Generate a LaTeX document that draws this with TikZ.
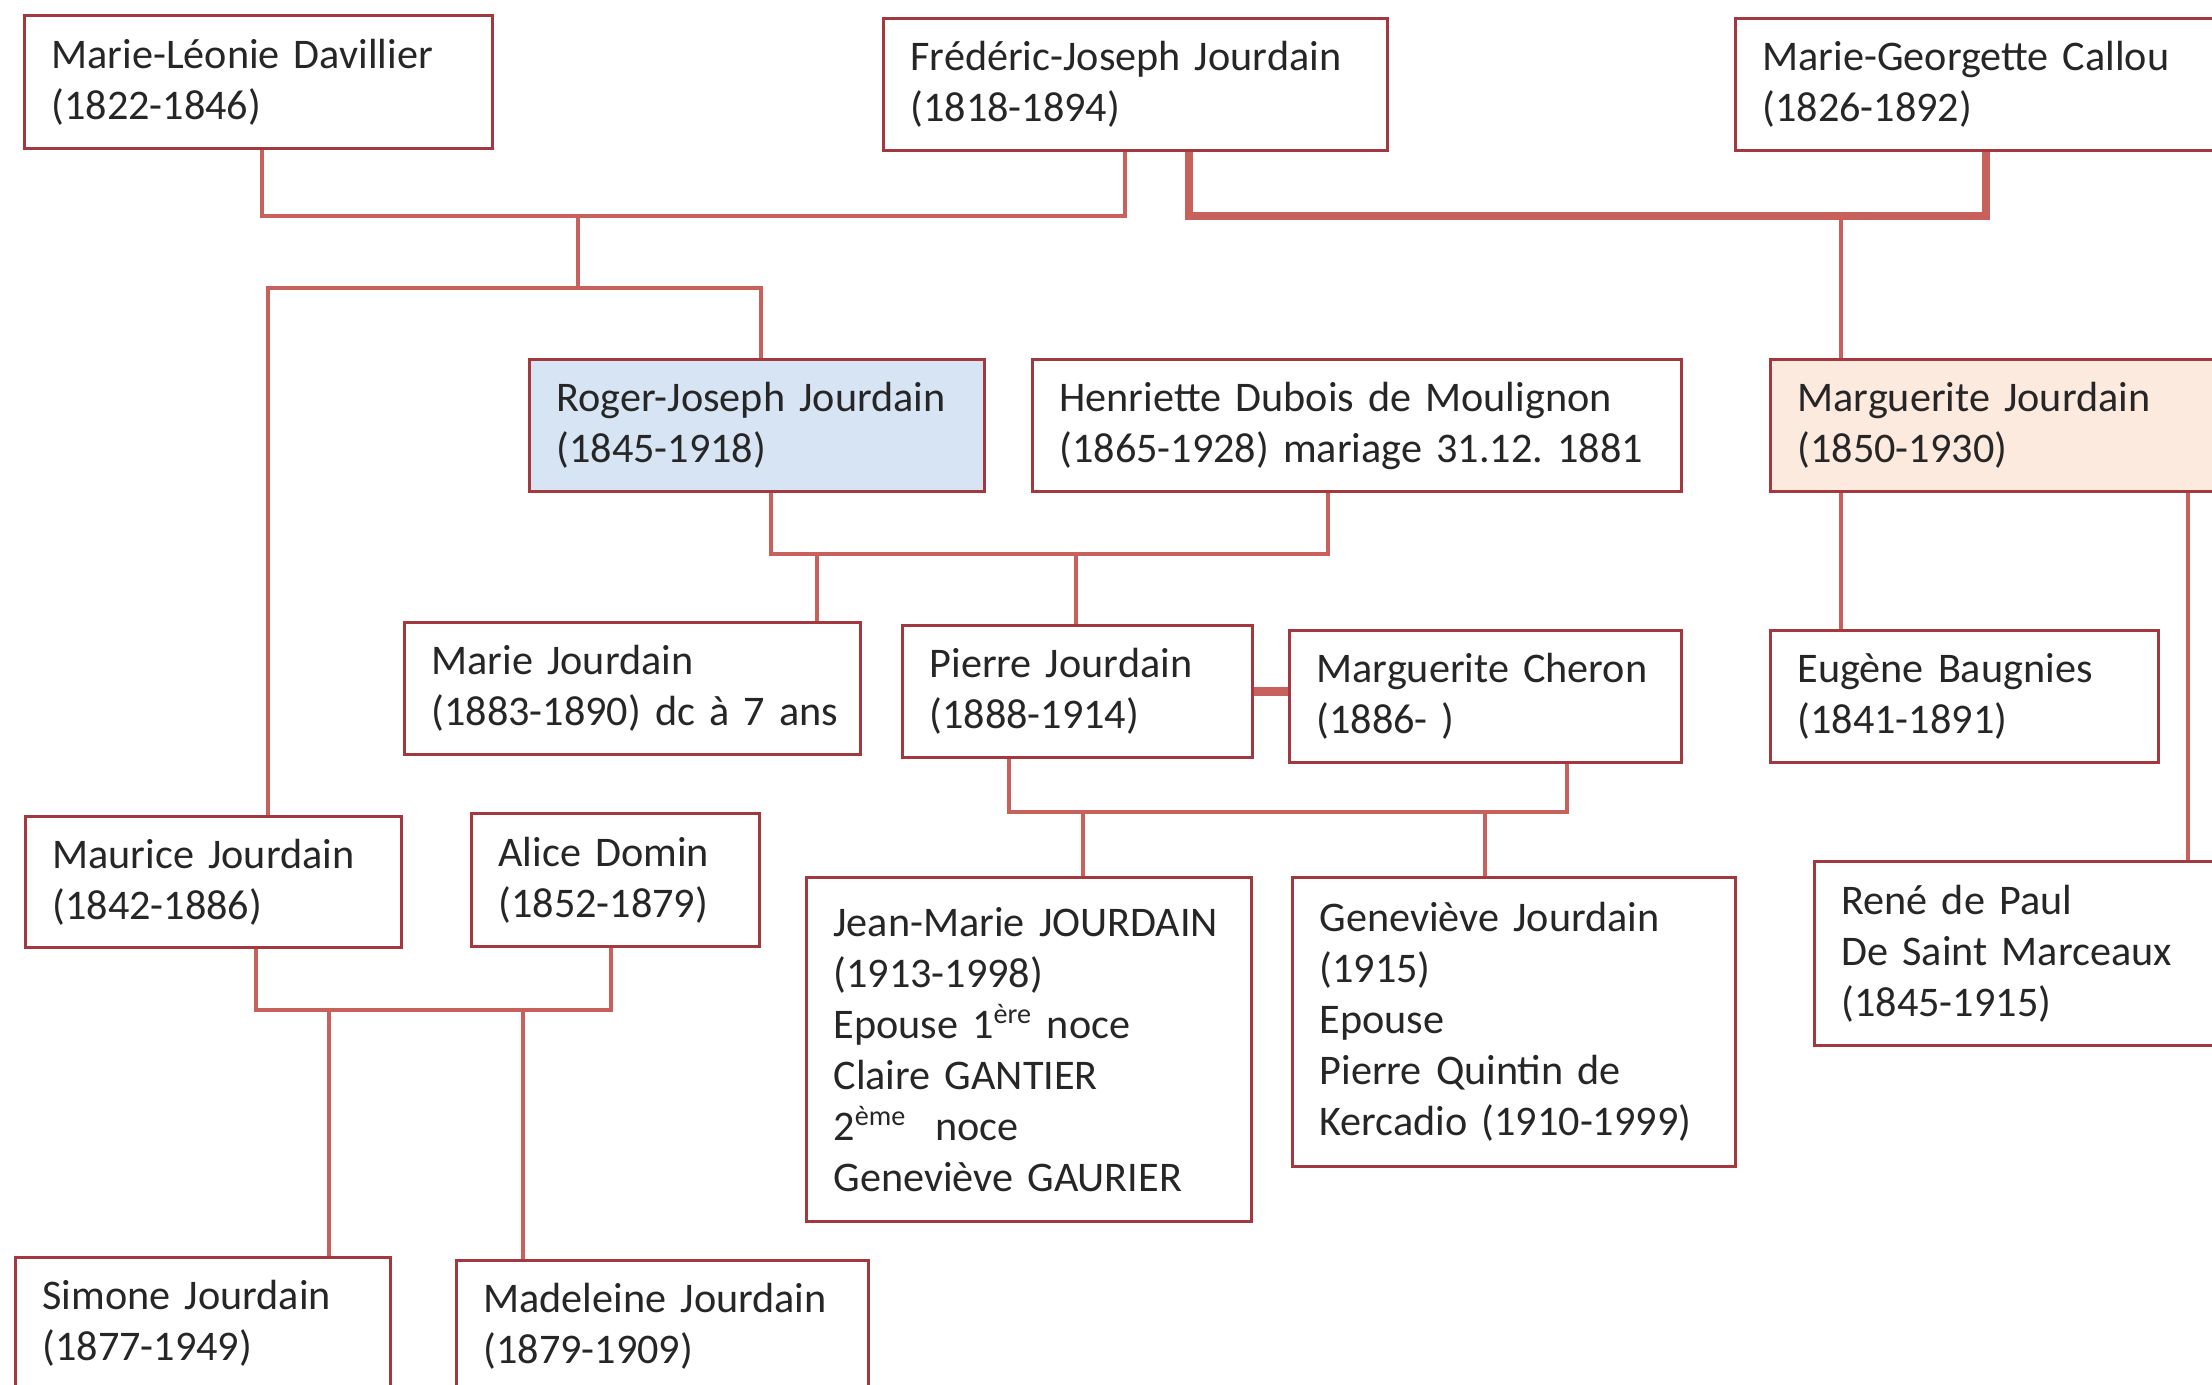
\documentclass[tikz,border=0pt]{standalone}
\usepackage{fontspec}
\setmainfont{Carlito}
\usepackage{tikz}
\definecolor{boxred}{HTML}{A3393F}
\definecolor{linkred}{HTML}{C8605C}
\definecolor{rogerblue}{HTML}{D7E4F3}
\definecolor{margpeach}{HTML}{FCEADF}
\definecolor{ink}{HTML}{262626}
\newcommand{\persfont}{\fontsize{12}{14.5}\selectfont\frenchspacing\lineskiplimit=-6pt\exhyphenpenalty=10000}

\begin{document}
\begin{tikzpicture}[x=0.01cm,y=-0.01cm,
  pers/.style={draw=boxred,line width=0.85pt,fill=white,anchor=north west,align=left,
    inner xsep=0.27cm,inner ysep=0pt,font=\persfont,text=ink},
  link/.style={draw=linkred,line width=1.3pt},
  couple/.style={draw=linkred,line width=2.3pt}]
\clip (0,0) rectangle (2212,1385);
\fill[white] (0,0) rectangle (2212,1385);

\node[pers,text width=4.14cm,minimum height=1.33cm] (davillier) at (23,14) {Marie-Léonie Davillier\\(1822-1846)};
\node[pers,text width=4.50cm,minimum height=1.32cm] (frederic) at (882,17) {Frédéric-Joseph Jourdain\\(1818-1894)};
\node[pers,text width=5.06cm,minimum height=1.32cm] (callou) at (1734,17) {Marie-Georgette Callou\\(1826-1892)};

\node[pers,fill=rogerblue,text width=4.01cm,minimum height=1.32cm] (roger) at (528,358) {Roger-Joseph~Jourdain\\(1845-1918)};
\node[pers,text width=5.95cm,minimum height=1.32cm] (henriette) at (1031,358) {Henriette Dubois de Moulignon\\(1865-1928) mariage 31.12. 1881};
\node[pers,fill=margpeach,text width=4.66cm,minimum height=1.32cm] (marguerite) at (1769,358) {Marguerite Jourdain\\(1850-1930)};

\node[pers,text width=4.02cm,minimum height=1.32cm] (marie) at (403,621) {Marie Jourdain\\(1883-1890)~dc~à~7~ans};
\node[pers,text width=2.96cm,minimum height=1.32cm] (pierre) at (901,624) {Pierre Jourdain\\(1888-1914)};
\node[pers,text width=3.38cm,minimum height=1.32cm] (cheron) at (1288,629) {Marguerite~Cheron\\(1886- )};
\node[pers,text width=3.34cm,minimum height=1.32cm] (eugene) at (1769,629) {Eugène Baugnies\\(1841-1891)};

\node[pers,text width=3.22cm,minimum height=1.31cm] (maurice) at (24,815) {Maurice Jourdain\\(1842-1886)};
\node[pers,text width=2.34cm,minimum height=1.33cm] (alice) at (470,812) {Alice Domin\\(1852-1879)};
\node[pers,text width=3.91cm,minimum height=3.44cm] (jeanmarie) at (805,876) {Jean-Marie~JOURDAIN\\(1913-1998)\\Epouse 1\textsuperscript{ère} noce\\Claire GANTIER\\2\textsuperscript{ème}~ noce\\Geneviève~GAURIER};
\node[pers,text width=3.89cm,minimum height=2.89cm] (genevieve) at (1291,876) {Geneviève Jourdain\\(1915)\\Epouse\\Pierre Quintin de\\Kercadio~(1910-1999)};
\node[pers,text width=4.46cm,minimum height=1.84cm] (rene) at (1813,860) {René de Paul\\De Saint Marceaux\\(1845-1915)};

\node[pers,text width=3.21cm,minimum height=1.32cm] (simone) at (14,1256) {Simone Jourdain\\(1877-1949)};
\node[pers,text width=3.58cm,minimum height=1.32cm] (madeleine) at (455,1259) {Madeleine Jourdain\\(1879-1909)};

\draw[link] (davillier.south -| 262,0) -- (262,216) -| (frederic.south -| 1125,0);
\draw[link] (578,216) -- (578,288);
\draw[link] (maurice.north -| 268,0) -- (268,288) -| (roger.north -| 761,0);
\draw[couple] (frederic.south -| 1189,0) -- (1189,216) -| (callou.south -| 1986,0);
\draw[link] (1841,216) -- (marguerite.north -| 1841,0);

\draw[link] (roger.south -| 771,0) -- (771,554) -| (henriette.south -| 1328,0);
\draw[link] (817,554) -- (marie.north -| 817,0);
\draw[link] (1076,554) -- (pierre.north -| 1076,0);
\draw[couple] (pierre.east) -- (pierre.east -| cheron.west);
\draw[link] (pierre.south -| 1009,0) -- (1009,812) -| (cheron.south -| 1567,0);
\draw[link] (1083,812) -- (jeanmarie.north -| 1083,0);
\draw[link] (1485,812) -- (genevieve.north -| 1485,0);

\draw[link] (marguerite.south -| 1841,0) -- (eugene.north -| 1841,0);
\draw[link] (marguerite.south -| 2188,0) -- (rene.north -| 2188,0);

\draw[link] (maurice.south -| 256,0) -- (256,1010) -| (alice.south -| 611,0);
\draw[link] (329,1010) -- (simone.north -| 329,0);
\draw[link] (523,1010) -- (madeleine.north -| 523,0);
\end{tikzpicture}
\end{document}
